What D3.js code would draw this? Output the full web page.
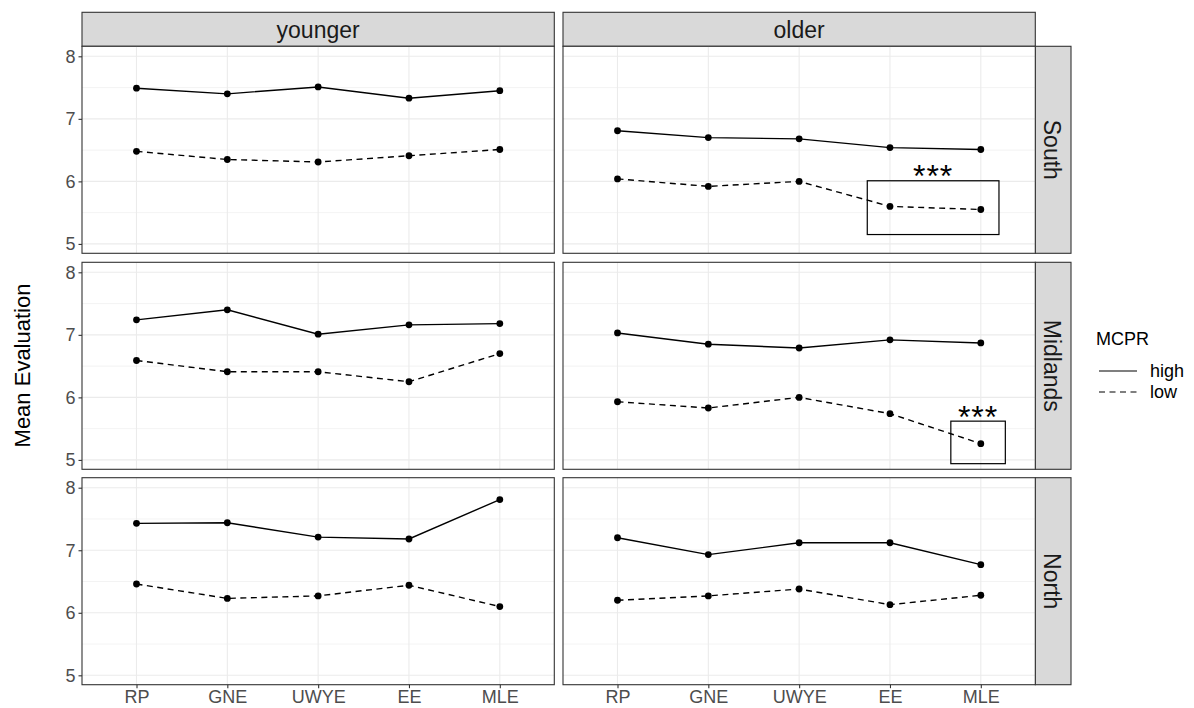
<!DOCTYPE html>
<html>
<head>
<meta charset="utf-8">
<script src="https://cdn.jsdelivr.net/npm/d3@7"></script>
<style>
  body { margin: 0; background: #fff; }
  svg { display: block; font-family: "Liberation Sans", Arial, sans-serif; }
</style>
</head>
<body>
<svg id="chart" width="1194" height="708"></svg>
<script>
// Categories and facets
const categories = ["RP", "GNE", "UWYE", "EE", "MLE"];
const ageGroups = ["younger", "older"];
const regions = ["South", "Midlands", "North"];
const mcprLevels = ["high", "low"];
const yTicks = [5, 6, 7, 8];
const yMinor = [5.5, 6.5, 7.5];

// Mean evaluations per region / age group / MCPR level
const southYoungerHigh = [7.49, 7.40, 7.51, 7.33, 7.45];
const southYoungerLow = [6.48, 6.35, 6.31, 6.41, 6.51];
const southOlderHigh = [6.81, 6.70, 6.68, 6.54, 6.51];
const southOlderLow = [6.04, 5.92, 6.00, 5.60, 5.55];
const midlandsYoungerHigh = [7.24, 7.40, 7.01, 7.16, 7.18];
const midlandsYoungerLow = [6.59, 6.41, 6.41, 6.25, 6.70];
const midlandsOlderHigh = [7.03, 6.85, 6.79, 6.92, 6.87];
const midlandsOlderLow = [5.93, 5.83, 6.00, 5.74, 5.26];
const northYoungerHigh = [7.43, 7.44, 7.21, 7.18, 7.81];
const northYoungerLow = [6.46, 6.23, 6.27, 6.44, 6.10];
const northOlderHigh = [7.20, 6.93, 7.12, 7.12, 6.77];
const northOlderLow = [6.20, 6.27, 6.38, 6.13, 6.28];

// Significance markers (data units: category index 1..5, evaluation)
const sigRegion = ["South", "Midlands"];
const sigAge = ["older", "older"];
const sigXmin = [3.75, 4.67];
const sigXmax = [5.20, 5.27];
const sigYmin = [5.15, 4.94];
const sigYmax = [6.01, 5.62];
const sigLabelY = [6.19, 5.79];
const sigLabel = ["***", "***"];

const seriesTable = {
  South:    { younger: { high: southYoungerHigh, low: southYoungerLow },
              older:   { high: southOlderHigh,   low: southOlderLow } },
  Midlands: { younger: { high: midlandsYoungerHigh, low: midlandsYoungerLow },
              older:   { high: midlandsOlderHigh,   low: midlandsOlderLow } },
  North:    { younger: { high: northYoungerHigh, low: northYoungerLow },
              older:   { high: northOlderHigh,   low: northOlderLow } }
};

// Layout
const svg = d3.select("#chart");
const panelLeft = [82, 563];
const panelW = 472.3;
const panelTop = [46.3, 262.3, 477.7];
const panelH = 207;
const stripTop = 12.3;
const stripRightW = 35.7;
const dashFor = { high: null, low: "6,4.5" };

const x = d3.scaleLinear().domain([0.4, 5.6]).range([0, panelW]);
const y = d3.scaleLinear().domain([4.85, 8.16]).range([panelH, 0]);

// Column strips
ageGroups.forEach((age, c) => {
  const g = svg.append("g").attr("transform", `translate(${panelLeft[c]},${stripTop})`);
  g.append("rect").attr("width", panelW).attr("height", panelTop[0] - stripTop)
    .attr("fill", "#d9d9d9").attr("stroke", "#333").attr("stroke-width", 1.1);
  g.append("text").attr("x", panelW / 2).attr("y", (panelTop[0] - stripTop) / 2 + 1)
    .attr("text-anchor", "middle").attr("dominant-baseline", "central")
    .attr("font-size", 23).attr("fill", "#1a1a1a").text(age);
});

// Row strips
regions.forEach((reg, r) => {
  const g = svg.append("g").attr("transform", `translate(${panelLeft[1] + panelW},${panelTop[r]})`);
  g.append("rect").attr("width", stripRightW).attr("height", panelH)
    .attr("fill", "#d9d9d9").attr("stroke", "#333").attr("stroke-width", 1.1);
  g.append("text").attr("transform", `translate(${stripRightW / 2 - 1},${panelH / 2}) rotate(90)`)
    .attr("text-anchor", "middle").attr("dominant-baseline", "central")
    .attr("font-size", 23).attr("fill", "#1a1a1a").text(reg);
});

const line = d3.line().x((d, i) => x(i + 1)).y(d => y(d));

regions.forEach((reg, r) => {
  ageGroups.forEach((age, c) => {
    const g = svg.append("g").attr("transform", `translate(${panelLeft[c]},${panelTop[r]})`);
    g.append("rect").attr("width", panelW).attr("height", panelH).attr("fill", "#fff");

    // Grid
    g.selectAll(".minor").data(yMinor).join("line")
      .attr("x1", 0).attr("x2", panelW).attr("y1", d => y(d)).attr("y2", d => y(d))
      .attr("stroke", "#ebebeb").attr("stroke-width", 0.6);
    g.selectAll(".major").data(yTicks).join("line")
      .attr("x1", 0).attr("x2", panelW).attr("y1", d => y(d)).attr("y2", d => y(d))
      .attr("stroke", "#ebebeb").attr("stroke-width", 1.1);
    g.selectAll(".vgrid").data(categories).join("line")
      .attr("x1", (d, i) => x(i + 1)).attr("x2", (d, i) => x(i + 1))
      .attr("y1", 0).attr("y2", panelH)
      .attr("stroke", "#ebebeb").attr("stroke-width", 1.1);

    // Series
    mcprLevels.forEach(lvl => {
      const vals = seriesTable[reg][age][lvl];
      g.append("path").datum(vals).attr("d", line)
        .attr("fill", "none").attr("stroke", "#000").attr("stroke-width", 1.4)
        .attr("stroke-dasharray", dashFor[lvl]);
      g.selectAll(null).data(vals).join("circle")
        .attr("cx", (d, i) => x(i + 1)).attr("cy", d => y(d)).attr("r", 3.4)
        .attr("fill", "#000");
    });

    // Significance boxes
    sigRegion.forEach((sr, k) => {
      if (sr !== reg || sigAge[k] !== age) return;
      g.append("rect")
        .attr("x", x(sigXmin[k])).attr("y", y(sigYmax[k]))
        .attr("width", x(sigXmax[k]) - x(sigXmin[k]))
        .attr("height", y(sigYmin[k]) - y(sigYmax[k]))
        .attr("fill", "none").attr("stroke", "#000").attr("stroke-width", 1.2);
      const fs = 32;
      g.append("text")
        .attr("x", x((sigXmin[k] + sigXmax[k]) / 2))
        .attr("y", y(sigLabelY[k]) + 0.56 * fs)
        .attr("text-anchor", "middle").attr("font-size", fs).attr("fill", "#000")
        .attr("letter-spacing", 1)
        .text(sigLabel[k]);
    });

    // Border
    g.append("rect").attr("width", panelW).attr("height", panelH)
      .attr("fill", "none").attr("stroke", "#333").attr("stroke-width", 1.1);

    // Y axis on the left column
    if (c === 0) {
      const ax = g.append("g").call(d3.axisLeft(y).tickValues(yTicks)
        .tickFormat(d3.format("d")).tickSize(3.5).tickPadding(3));
      ax.select(".domain").remove();
      ax.selectAll(".tick line").attr("stroke", "#333").attr("stroke-width", 1.1);
      ax.selectAll(".tick text").attr("font-size", 18).attr("fill", "#4d4d4d")
        .attr("font-family", "Liberation Sans, Arial, sans-serif");
    }
    // X axis on the bottom row
    if (r === regions.length - 1) {
      const ax = g.append("g").attr("transform", `translate(0,${panelH})`)
        .call(d3.axisBottom(x).tickValues([1, 2, 3, 4, 5])
          .tickFormat(i => categories[i - 1]).tickSize(3.5).tickPadding(2));
      ax.select(".domain").remove();
      ax.selectAll(".tick line").attr("stroke", "#333").attr("stroke-width", 1.1);
      ax.selectAll(".tick text").attr("font-size", 18).attr("fill", "#4d4d4d")
        .attr("font-family", "Liberation Sans, Arial, sans-serif");
    }
  });
});

// Y axis title
svg.append("text")
  .attr("transform", `translate(30,${(panelTop[0] + panelTop[2] + panelH) / 2}) rotate(-90)`)
  .attr("text-anchor", "middle").attr("font-size", 22).attr("fill", "#000")
  .text("Mean Evaluation");

// Legend
const lg = svg.append("g").attr("transform", "translate(1096,0)");
lg.append("text").attr("x", 0).attr("y", 345).attr("font-size", 18).attr("fill", "#000").text("MCPR");
mcprLevels.forEach((lvl, i) => {
  const cy = 371 + i * 21;
  lg.append("line").attr("x1", 3).attr("x2", 41).attr("y1", cy).attr("y2", cy)
    .attr("stroke", "#000").attr("stroke-width", 1.2).attr("stroke-dasharray", dashFor[lvl]);
  lg.append("text").attr("x", 54).attr("y", cy).attr("dominant-baseline", "central")
    .attr("font-size", 18).attr("fill", "#000").text(lvl);
});
</script>
</body>
</html>
